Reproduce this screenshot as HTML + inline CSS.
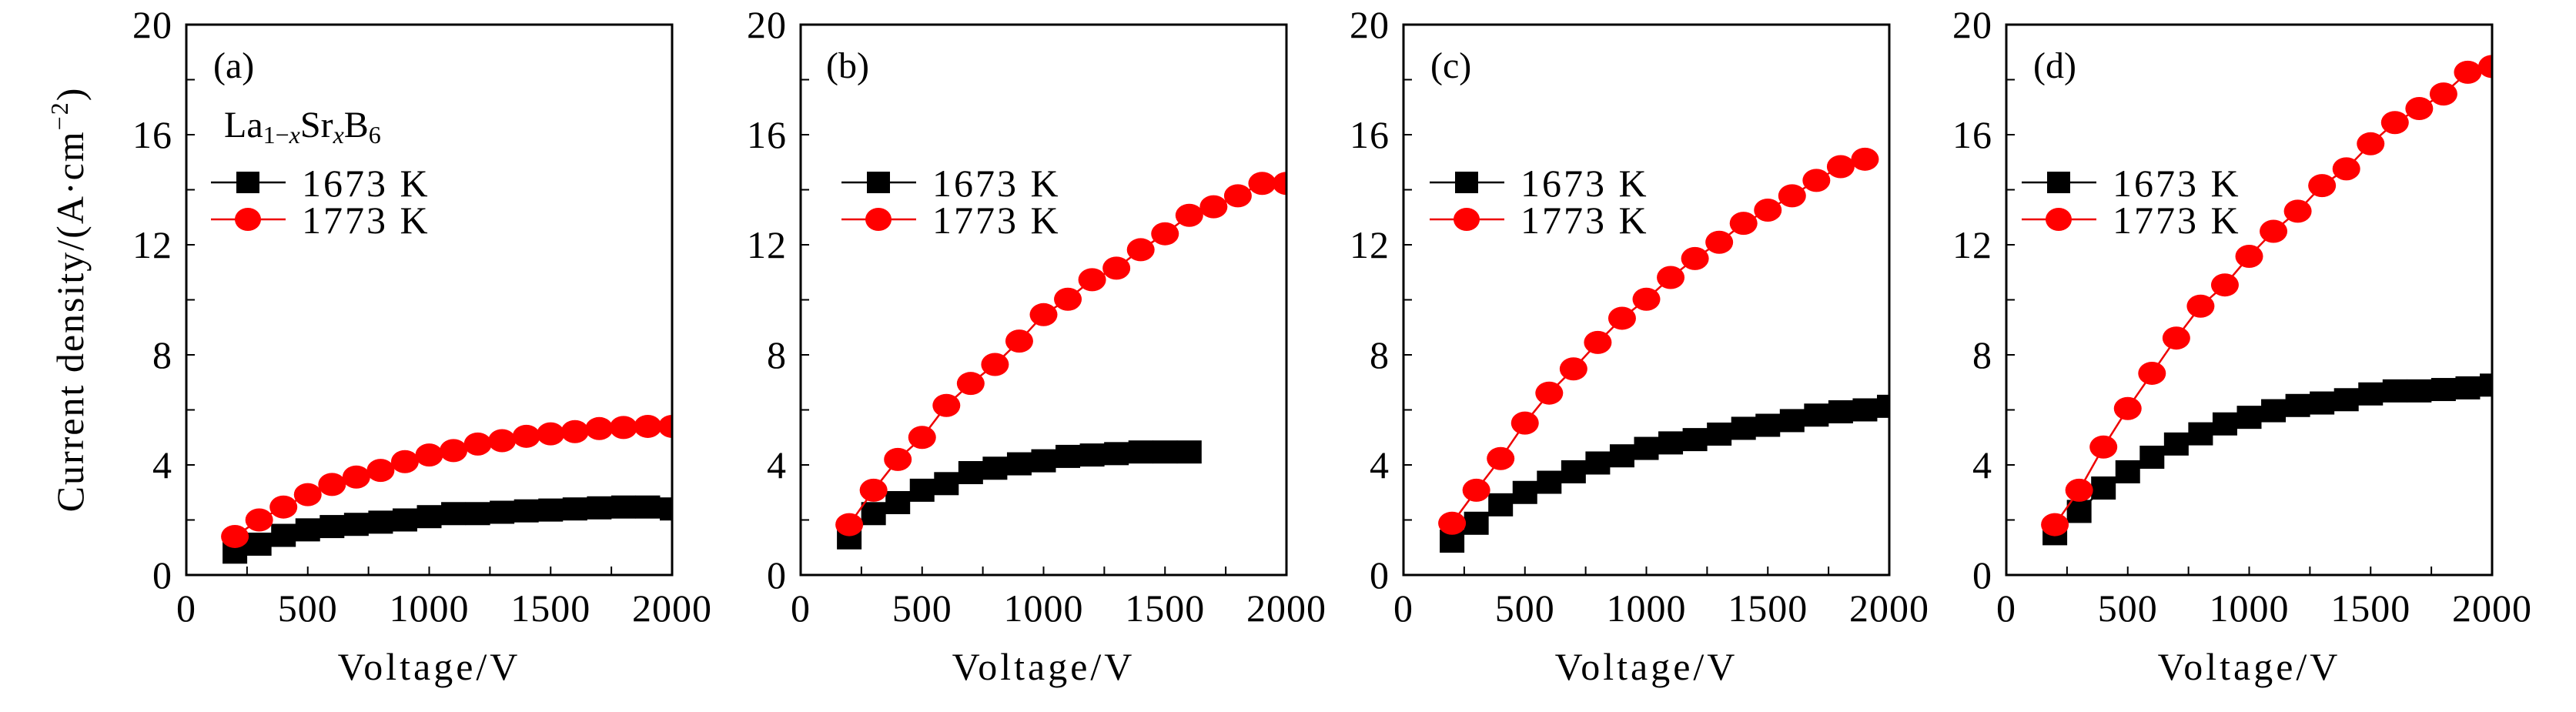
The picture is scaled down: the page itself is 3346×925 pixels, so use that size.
<!DOCTYPE html>
<html><head><meta charset="utf-8">
<style>
html,body{margin:0;padding:0;background:#fff;}
svg{display:block;}
text{font-family:"Liberation Serif","DejaVu Serif",serif;}
</style></head>
<body>
<svg id="chart" width="3346" height="925" viewBox="0 0 3346 925" xmlns="http://www.w3.org/2000/svg" font-family="Liberation Serif, DejaVu Serif, serif"></svg>
<script>
const voltages = [200,300,400,500,600,700,800,900,1000,1100,1200,1300,1400,1500,1600,1700,1800,1900,2000];
const aBlack = [0.83,1.12,1.44,1.64,1.76,1.84,1.92,2.0,2.12,2.23,2.23,2.28,2.33,2.36,2.4,2.44,2.47,2.47,2.4];
const aRed = [1.4,2.0,2.47,2.92,3.29,3.56,3.8,4.12,4.36,4.52,4.76,4.88,5.04,5.13,5.21,5.32,5.36,5.4,5.4];
const bBlack = [1.35,2.23,2.63,3.08,3.32,3.72,3.88,4.04,4.15,4.31,4.36,4.41,4.47,4.47,4.47];
const bRed = [1.83,3.08,4.2,5.0,6.16,6.96,7.65,8.5,9.46,10.02,10.73,11.15,11.82,12.4,13.07,13.38,13.78,14.23,14.23];
const cBlack = [1.23,1.88,2.55,3.0,3.37,3.75,4.07,4.33,4.6,4.8,4.92,5.12,5.33,5.44,5.61,5.81,5.93,6.0,6.13];
const cRed = [1.88,3.08,4.23,5.52,6.61,7.49,8.45,9.33,10.02,10.81,11.5,12.09,12.78,13.26,13.78,14.34,14.84,15.11];
const dBlack = [1.5,2.31,3.16,3.75,4.28,4.76,5.13,5.49,5.73,5.97,6.16,6.25,6.37,6.58,6.69,6.69,6.74,6.8,6.9];
const dRed = [1.83,3.08,4.65,6.05,7.33,8.61,9.77,10.54,11.58,12.49,13.22,14.15,14.76,15.67,16.44,16.95,17.48,18.27,18.48];
const xTicks = [0,500,1000,1500,2000];
const yTicks = [0,4,8,12,16,20];
const panelLabels = ['(a)','(b)','(c)','(d)'];
const legendLabels = ['1673 K','1773 K'];

const NS='http://www.w3.org/2000/svg';
const svg=document.getElementById('chart');
const FF='Liberation Serif, DejaVu Serif, serif';
function mk(tag,attrs,parent){const e=document.createElementNS(NS,tag);for(const k in attrs)e.setAttribute(k,attrs[k]);if(tag==='text')e.setAttribute('font-family',FF);(parent||svg).appendChild(e);return e;}

const panels=[
 {left:242,black:aBlack,red:aRed,leg:32,lab:35},
 {left:1040,black:bBlack,red:bRed,leg:53,lab:33},
 {left:1823,black:cBlack,red:cRed,leg:34,lab:35},
 {left:2606,black:dBlack,red:dRed,leg:20,lab:35}
];
const W=631, plotTop=32, plotBottom=747;

panels.forEach((p,i)=>{
  const g=mk('g',{});
  
  
  const xs=v=>p.left+v/2000*W;
  const ys=v=>plotBottom-v/20*(plotBottom-plotTop);
  const cp=mk('clipPath',{id:'clip'+i},g);
  mk('rect',{x:p.left,y:plotTop,width:W,height:plotBottom-plotTop},cp);
  for(let v=0;v<=20;v+=2){mk('line',{x1:p.left,x2:p.left+11,y1:ys(v),y2:ys(v),stroke:'#000','stroke-width':2},g);}
  for(let v=0;v<=2000;v+=250){mk('line',{x1:xs(v),x2:xs(v),y1:plotBottom,y2:plotBottom-11,stroke:'#000','stroke-width':2},g);}
  yTicks.forEach(v=>{const t=mk('text',{x:p.left-18,y:ys(v)+17,'text-anchor':'end','font-size':50,'letter-spacing':1},g);t.textContent=v;
    
    });
  xTicks.forEach(v=>{const t=mk('text',{x:xs(v),y:plotBottom+60,'text-anchor':'middle','font-size':50,'letter-spacing':1},g);t.textContent=v;
    
    });
  const xt=mk('text',{x:p.left+W/2,y:883,'text-anchor':'middle','font-size':50,'letter-spacing':4},g);xt.textContent='Voltage/V';
  
  
  const dg=mk('g',{'clip-path':'url(#clip'+i+')'},g);
  const bpts=p.black.map((v,k)=>xs(voltages[k])+','+ys(v)).join(' ');
  const bl=mk('polyline',{points:bpts,fill:'none',stroke:'#000','stroke-width':2.5},dg);
  
  
  p.black.forEach((v,k)=>{const r=mk('rect',{x:xs(voltages[k])-16,y:ys(v)-15,width:32,height:30,fill:'#000'},dg);
    
    });
  const rpts=p.red.map((v,k)=>xs(voltages[k])+','+ys(v)).join(' ');
  const rl=mk('polyline',{points:rpts,fill:'none',stroke:'#e00','stroke-width':2.5},dg);
  
  
  p.red.forEach((v,k)=>{const c=mk('ellipse',{cx:xs(voltages[k]),cy:ys(v),rx:18,ry:15,fill:'#f00'},dg);
    
    });
  const fr=mk('rect',{x:p.left,y:plotTop,width:W,height:plotBottom-plotTop,fill:'none',stroke:'#000','stroke-width':3},g);
  
  
  const pl=mk('text',{x:p.left+p.lab,y:101,'font-size':48},g);pl.textContent=panelLabels[i];
  
  
  const lx=p.left+p.leg;
  const lg=mk('g',{},g);
  
  
  [237,285].forEach((y,k)=>{
    mk('line',{x1:lx,x2:lx+97,y1:y,y2:y,stroke:k?'#e00':'#000','stroke-width':2.5},lg);
    if(k===0) mk('rect',{x:lx+48-15,y:y-14,width:30,height:28,fill:'#000'},lg);
    else mk('ellipse',{cx:lx+48,cy:y,rx:17,ry:15,fill:'#f00'},lg);
    const t=mk('text',{x:lx+118,y:y+18,'font-size':50,'letter-spacing':3},lg);t.textContent=legendLabels[k];
    
    
  });
});
const comp=mk('text',{x:291,y:178,'font-size':48});


comp.innerHTML='La<tspan font-size="32" dy="8">1−<tspan font-style="italic">x</tspan></tspan><tspan dy="-8">Sr</tspan><tspan font-size="32" dy="8" font-style="italic">x</tspan><tspan dy="-8">B</tspan><tspan font-size="32" dy="8">6</tspan>';
const yt=mk('text',{x:0,y:0,'text-anchor':'middle','font-size':50,'letter-spacing':2,transform:'translate(108,389) rotate(-90)'});


yt.innerHTML='Current density/(A·cm<tspan font-size="32" dy="-20">−2</tspan><tspan dy="20">)</tspan>';
</script>
</body></html>
